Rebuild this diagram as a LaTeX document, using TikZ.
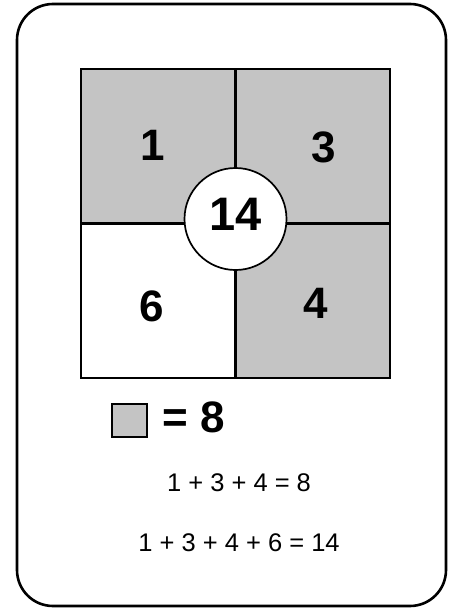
\documentclass[tikz,border=0pt]{standalone}
\usepackage{fontspec}
\setmainfont{Liberation Sans}
\definecolor{cellgray}{HTML}{C4C4C4}
\tikzset{
  cell/.style={draw=black, line width=2.2pt},
  big/.style={font=\fontsize{44}{44}\selectfont\bfseries},
  eq/.style={font=\fontsize{25.5}{25.5}\selectfont},
}
\begin{document}
\begin{tikzpicture}[x=1pt,y=-1pt]
\useasboundingbox (0,0) rectangle (457,610);
\draw[line width=2.6pt, rounded corners=36pt] (17,4) rectangle (446,606);
% cells
\fill[cellgray] (81,69) rectangle (235.5,223.5);
\fill[cellgray] (235.5,69) rectangle (390,223.5);
\fill[cellgray] (235.5,223.5) rectangle (390,378);
\draw[cell] (81,69) rectangle (390,378);
\draw[cell] (235.5,69) -- (235.5,378);
\draw[cell] (81,223.5) -- (390,223.5);
\node[cell, circle, fill=white, minimum size=102pt, inner sep=0pt, line width=1.7pt] (c) at (235.5,219) {};
\node[font=\fontsize{47}{47}\selectfont\bfseries] (n14) at (235.5,214.5) {14};
\node[big] (n1) at (152.5,145.5) {1};
\node[big] (n3) at (323.5,147) {3};
\node[big] (n6) at (151.5,306) {6};
\node[big] (n4) at (315.5,303) {4};
% legend
\node[draw=black, line width=2pt, fill=cellgray, minimum width=35pt, minimum height=33pt, inner sep=0pt] (leg) at (129.5,420) {};
\node[font=\fontsize{44}{44}\selectfont\bfseries, anchor=west, inner sep=0pt] (legt) at (162,417.5) {= 8};
\node[eq] (e1) at (239,483) {1 + 3 + 4 = 8};
\node[eq] (e2) at (239,543) {1 + 3 + 4 + 6 = 14};
\end{tikzpicture}
\end{document}
